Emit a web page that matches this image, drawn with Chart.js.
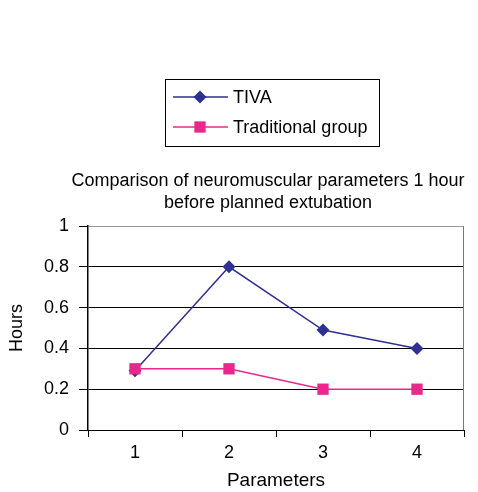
<!DOCTYPE html>
<html>
<head>
<meta charset="utf-8">
<script src="https://cdn.jsdelivr.net/npm/chart.js@4.4.0/dist/chart.umd.min.js"></script>
<style>
html, body { margin: 0; padding: 0; background: #fff; }
#wrap { width: 478px; height: 492px; }
</style>
</head>
<body>
<div id="wrap"><canvas id="grafico" width="478" height="492"></canvas></div>
<script>
// Dados do gráfico
const categories = ['1', '2', '3', '4'];
const tiva = [0.29, 0.8, 0.49, 0.4];
const traditional = [0.3, 0.3, 0.2, 0.2];
const seriesNames = ['TIVA', 'Traditional group'];
const yTicks = [0, 0.2, 0.4, 0.6, 0.8, 1];
const titleLines = ['Comparison of neuromuscular parameters 1 hour', 'before planned extubation'];

const FONT = '"Liberation Sans", Arial, sans-serif';
const navy = '#2e3192';
const pink = '#e8288c';

// desenha um marcador (losango ou quadrado)
function marker(c, style, x, y, r, color) {
    c.fillStyle = color;
    c.beginPath();
    if (style === 'rectRot') {
        c.moveTo(x, y - r); c.lineTo(x + r, y); c.lineTo(x, y + r); c.lineTo(x - r, y);
    } else {
        const s = r * Math.SQRT1_2;
        c.rect(x - s, y - s, 2 * s, 2 * s);
    }
    c.closePath();
    c.fill();
}

// Legenda em caixa e título, como no original
const legendBox = {
    id: 'legendBox',
    afterDraw(chart) {
        const c = chart.ctx;
        c.save();
        c.strokeStyle = '#000';
        c.lineWidth = 1;
        c.strokeRect(165.5, 79.5, 214, 67);
        chart.data.datasets.forEach((ds, i) => {
            const y = 97 + i * 30;
            c.strokeStyle = ds.borderColor;
            c.lineWidth = 1.5;
            c.beginPath(); c.moveTo(173, y); c.lineTo(228, y); c.stroke();
            marker(c, ds.pointStyle, 200, y, ds.pointRadius, ds.borderColor);
            c.fillStyle = '#000';
            c.font = '18px ' + FONT;
            c.textBaseline = 'middle';
            c.textAlign = 'left';
            c.fillText(ds.label, 233, y + 1);
        });
        // título em duas linhas
        c.fillStyle = '#000';
        c.font = '18px ' + FONT;
        c.textAlign = 'center';
        c.textBaseline = 'middle';
        titleLines.forEach((t, i) => c.fillText(t, 268, 181 + i * 22));
        c.restore();
    }
};

// Borda direita da área do gráfico
const plotBorder = {
    id: 'plotBorder',
    afterDatasetsDraw(chart) {
        const a = chart.chartArea, c = chart.ctx;
        c.save();
        c.strokeStyle = '#777';
        c.lineWidth = 1;
        c.beginPath();
        c.moveTo(a.right - 0.5, a.top);
        c.lineTo(a.right - 0.5, a.bottom);
        c.stroke();
        c.restore();
    }
};

const ctx = document.getElementById('grafico').getContext('2d');

const myChart = new Chart(ctx, {
    type: 'line',
    data: {
        labels: categories,
        datasets: [{
            label: seriesNames[0],
            data: tiva,
            borderColor: navy,
            backgroundColor: navy,
            borderWidth: 1.5,
            pointStyle: 'rectRot',
            pointRadius: 6.5,
            pointBorderWidth: 0,
            order: 1
        }, {
            label: seriesNames[1],
            data: traditional,
            borderColor: pink,
            backgroundColor: pink,
            borderWidth: 1.5,
            pointStyle: 'rect',
            pointRadius: 8,
            pointBorderWidth: 0,
            order: 0
        }]
    },
    options: {
        responsive: false,
        animation: false,
        layout: { padding: { left: 0, right: 14, top: 226, bottom: 0 } },
        scales: {
            x: {
                offset: true,
                grid: { offset: true, drawOnChartArea: false, tickLength: 7, color: '#000' },
                border: { color: '#000', width: 1 },
                ticks: { color: '#000', font: { family: FONT, size: 18 }, padding: 5 },
                title: { display: true, text: 'Parameters', color: '#000', font: { family: FONT, size: 19 }, padding: 0 },
                afterFit: s => { s.height = 62; }
            },
            y: {
                min: 0,
                max: 1,
                afterBuildTicks: s => { s.ticks = yTicks.map(v => ({ value: v })); },
                grid: {
                    color: t => (t.tick && t.tick.value === 1 ? '#999' : '#000'),
                    tickColor: '#000',
                    tickLength: 9
                },
                border: { color: '#000', width: 1.5 },
                ticks: { color: '#000', font: { family: FONT, size: 18 }, padding: 10, callback: v => String(v) },
                title: { display: true, text: 'Hours', color: '#000', font: { family: FONT, size: 18 }, padding: { top: 6, bottom: 0 } },
                afterFit: s => { s.width = 88; }
            }
        },
        plugins: {
            legend: { display: false },
            tooltip: { enabled: false },
            title: { display: false }
        }
    },
    plugins: [legendBox, plotBorder]
});
</script>
</body>
</html>
